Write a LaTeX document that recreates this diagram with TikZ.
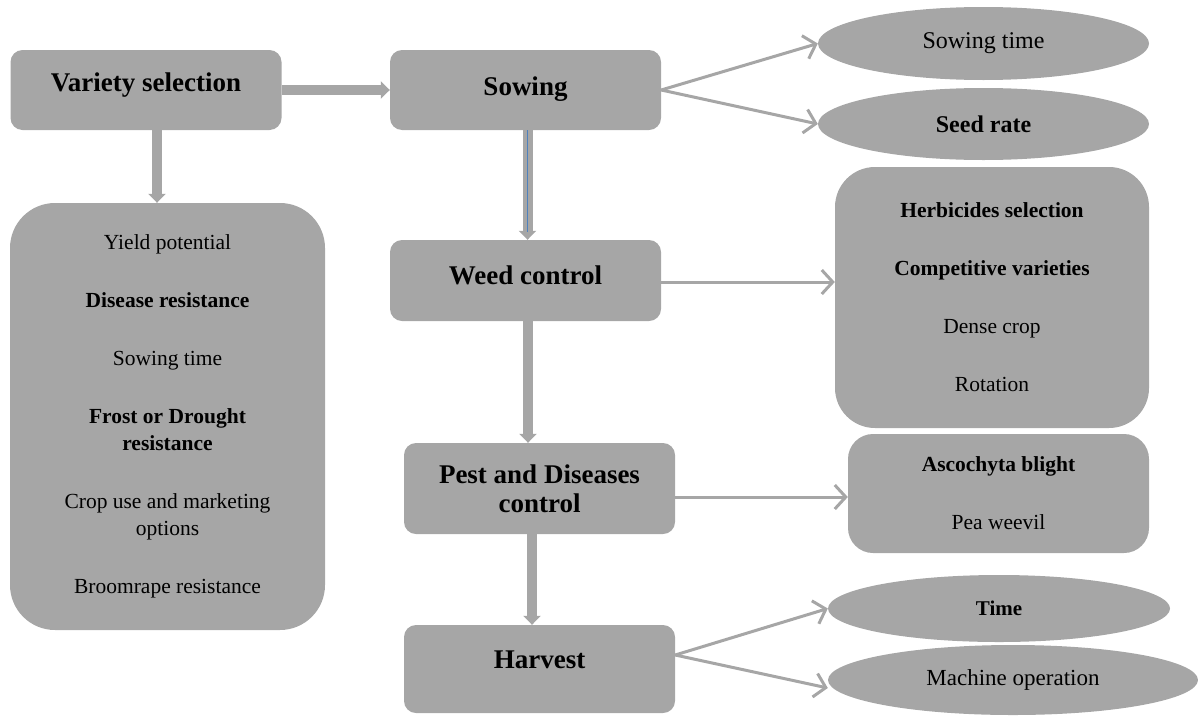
\documentclass[tikz,border=0pt]{standalone}
\usepackage{fontspec}
\setmainfont{Liberation Serif}
\usetikzlibrary{arrows.meta,positioning,shapes.geometric}
\definecolor{boxgray}{HTML}{A6A6A6}
\definecolor{guideblue}{HTML}{4F81BD}
\tikzset{
     stage node/.style={rectangle, rounded corners=12pt, fill=boxgray, minimum width=271pt, minimum height=80pt, inner sep=0pt, align=center, font=\fontsize{27}{29}\selectfont\bfseries},
     list node/.style={rectangle, fill=boxgray, inner sep=0pt, align=center, font=\fontsize{21.5}{27}\selectfont},
     oval node/.style={ellipse, fill=boxgray, inner sep=0pt},
      mainedge/.style = {boxgray, line width=10pt, -{Triangle[length=9pt,width=17pt]}},
      sideedge/.style = {boxgray, line width=3pt, -{Straight Barb[length=11pt,width=24pt]}},
    }

\begin{document}
\begin{tikzpicture}[x=1pt,y=-1pt,on grid]
        \useasboundingbox (0,0) rectangle (1198,715);
        % main column
        \node [stage node, text depth=15pt] (var) at (146,90) {Variety selection};
        \node [stage node, text depth=8pt] (sow) [right=379.5pt of var] {Sowing};
        \node [stage node, minimum height=81pt, text depth=10pt] (weed) [below=190.5pt of sow] {Weed control};
        \node [stage node, minimum height=91pt] (pest) [below right=208pt and 14pt of weed] {Pest and Diseases\\control};
        \node [stage node, minimum height=88pt, text depth=18pt] (harv) [below=180.5pt of pest] {Harvest};
        % details
        \node [list node, rounded corners=45pt, minimum width=315pt, minimum height=427pt] (traits) [below right=326.5pt and 21.5pt of var]
            {Yield potential\\[31pt] \textbf{Disease resistance}\\[31pt] Sowing time\\[31pt] \textbf{Frost or Drought}\\ \textbf{resistance}\\[31pt] Crop use and marketing\\ options\\[31pt] Broomrape resistance};
        \node [oval node, minimum width=331pt, minimum height=73pt, font=\fontsize{24}{28}\selectfont] (stime) [above right=46.5pt and 458pt of sow] {Sowing time};
        \node [oval node, minimum width=331pt, minimum height=72pt, font=\fontsize{24}{28}\selectfont\bfseries] (srate) [below right=34pt and 458pt of sow] {Seed rate};
        \node [list node, rounded corners=40pt, minimum width=314pt, minimum height=261pt] (wctl) [below right=17pt and 466.5pt of weed]
            {\textbf{Herbicides selection}\\[31pt] \textbf{Competitive varieties}\\[31pt] Dense crop\\[31pt] Rotation};
        \node [list node, rounded corners=25pt, minimum width=301pt, minimum height=119pt] (pctl) [below right=5pt and 459pt of pest]
            {\textbf{Ascochyta blight}\\[31pt] Pea weevil};
        \node [oval node, minimum width=342pt, minimum height=67pt, font=\fontsize{21}{25}\selectfont\bfseries] (htime) [above right=60.5pt and 459.5pt of harv] {Time};
        \node [oval node, minimum width=370pt, minimum height=70pt, font=\fontsize{23}{27}\selectfont] (hmach) [below right=11pt and 473.5pt of harv] {Machine operation};
        % connectors
        \draw [mainedge] (var.east) -- (sow.west);
        \draw [mainedge] ([xshift=11pt]var.south) -- ([xshift=11pt]var.south |- traits.north);
        \draw [mainedge] ([xshift=2pt]sow.south) -- ([xshift=2pt]sow.south |- weed.north);
        \draw [guideblue, line width=0.8pt] ([xshift=2pt]sow.south) -- ([xshift=2pt,yshift=8pt]sow.south |- weed.north);
        \draw [mainedge] ([xshift=2.5pt]weed.south) -- ([xshift=2.5pt]weed.south |- pest.north);
        \draw [mainedge] ([xshift=-7.5pt]pest.south) -- ([xshift=-7.5pt]pest.south |- harv.north);
        \draw [sideedge] (sow.east) -- (stime.west);
        \draw [sideedge] (sow.east) -- (srate.west);
        \draw [sideedge] ([yshift=-1.5pt]weed.east) -- ([yshift=-1.5pt]weed.east -| wctl.west);
        \draw [sideedge] ([yshift=-8.5pt]pest.east) -- ([yshift=-8.5pt]pest.east -| pctl.west);
        \draw [sideedge] ([yshift=14pt]harv.east) -- (htime.west);
        \draw [sideedge] ([yshift=14pt]harv.east) -- ([yshift=-8pt]hmach.west);
    \end{tikzpicture}
\end{document}
